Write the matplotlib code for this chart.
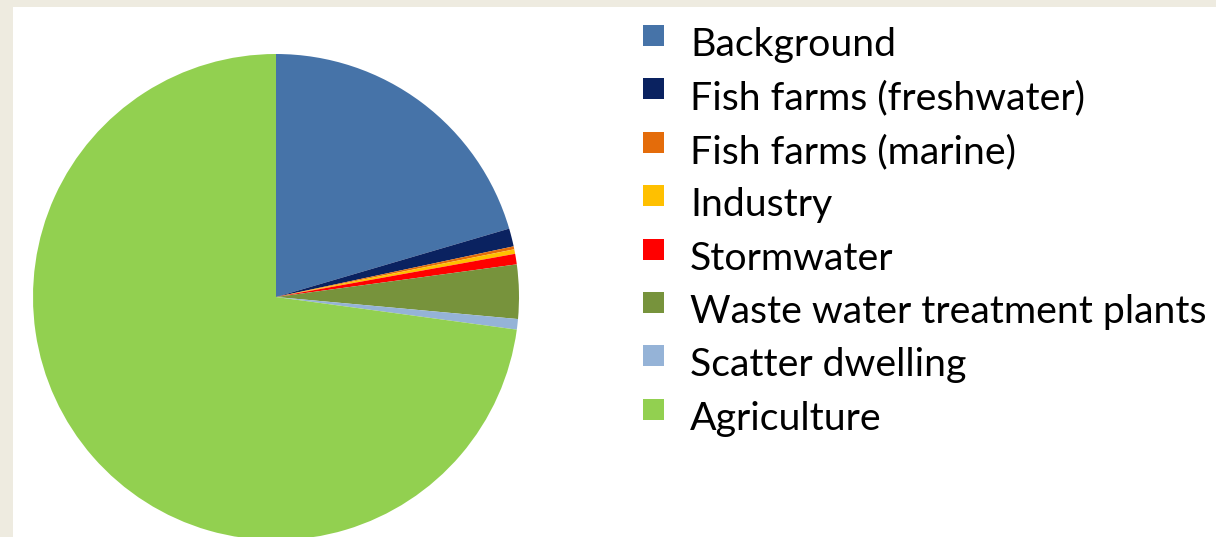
import matplotlib
matplotlib.use('Agg')
from matplotlib import pyplot as plt
from matplotlib.patches import Rectangle

labels = ['Background', 'Fish farms (freshwater)', 'Fish farms (marine)', 'Industry',
          'Stormwater', 'Waste water treatment plants', 'Scatter dwelling', 'Agriculture']
shares = [20.5, 1.2, 0.2, 0.3, 0.7, 3.6, 0.7, 73.0]
colors = ['#4673A8', '#0A2260', '#E46C0A', '#FFC000', '#FF0000', '#77933C', '#95B3D7', '#92D050']

W, H = 1216, 537
fig = plt.figure(figsize=(W / 100, H / 100), dpi=100)
fig.patch.set_facecolor('#EEEBE0')
# white chart area, kept under the axes
fig.patches.append(Rectangle((13 / W, 0), 1 - 13 / W, 1 - 7 / H, transform=fig.transFigure,
                             facecolor='white', edgecolor='none', zorder=-5))

cx, cy, r = 276, 297, 243
ax = fig.add_axes([(cx - r) / W, (H - cy - r) / H, 2 * r / W, 2 * r / H])
ax.pie(shares, colors=colors, startangle=90, counterclock=False, radius=1,
       wedgeprops=dict(linewidth=0, antialiased=True))
ax.set_xlim(-1, 1)
ax.set_ylim(-1, 1)
ax.set_aspect('auto')
ax.axis('off')

# legend drawn by hand
y0, step = 44, 53.4
for i, (lab, col) in enumerate(zip(labels, colors)):
    y = y0 + i * step
    fig.patches.append(Rectangle((643 / W, 1 - (y + 2) / H), 21 / W, 21 / H,
                                 transform=fig.transFigure, facecolor=col, edgecolor='none'))
    fig.text(690 / W, 1 - (y + 1) / H, lab, fontsize=28.3, family=['Lato', 'DejaVu Sans'],
             va='center', ha='left', color='black')

plt.savefig('out.png', dpi=100, facecolor=fig.get_facecolor())
